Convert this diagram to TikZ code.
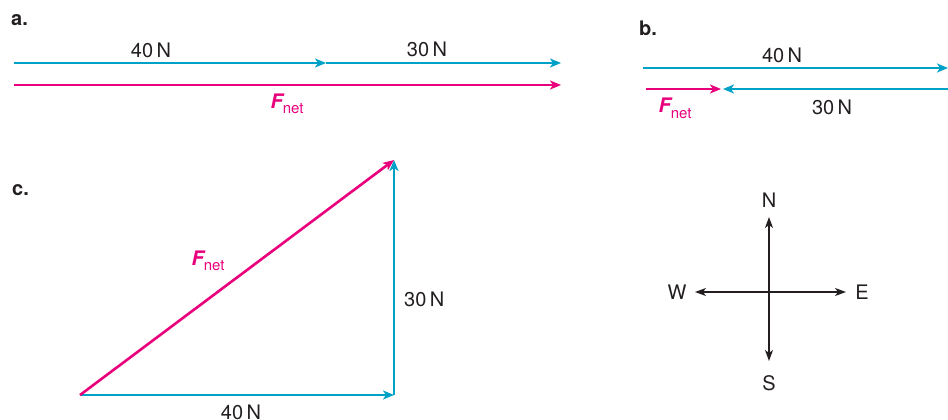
\documentclass[tikz,border=0pt]{standalone}
\usepackage{fontspec}
\setmainfont{TeX Gyre Heros}
\usetikzlibrary{arrows.meta}
\definecolor{vcyan}{RGB}{0,161,198}
\definecolor{vpink}{RGB}{232,0,124}
\definecolor{vtext}{RGB}{35,31,32}
\newcommand{\fnetlabel}{{\bfseries\itshape F}\raisebox{-0.28em}{\fontsize{15}{17}\selectfont net}}
\begin{document}
\begin{tikzpicture}[x=1pt,y=-1pt,
  every node/.style={font=\fontsize{20}{22}\selectfont, text=vtext, inner sep=0pt},
  partlabel/.style={font=\fontsize{20}{22}\selectfont\bfseries, anchor=base west},
  cyanvec/.style={draw=vcyan, line width=2.6pt, -{Stealth[length=11pt,width=9pt,inset=3pt]}},
  pinkvec/.style={draw=vpink, line width=2.6pt, -{Stealth[length=11pt,width=9pt,inset=3pt]}},
  compass/.style={draw=vtext, line width=1.3pt, -{Stealth[length=11pt,width=8pt,inset=3pt]}},
  pinktext/.style={text=vpink}]
\useasboundingbox (0,0) rectangle (948,420);

% ---- a ----
\node[partlabel] (la) at (11,26) {a.};
\coordinate (a0) at (14,63);
\coordinate (a1) at (326,63);
\coordinate (a2) at (561,63);
\coordinate (ap0) at (14,85);
\coordinate (ap1) at (561,85);
\draw[cyanvec] (a0) -- (a1);
\draw[cyanvec] (a1) -- (a2);
\draw[pinkvec] (ap0) -- (ap1);
\node[anchor=base] (a40) at (151,58) {40\,N};
\node[anchor=base] (a30) at (427,57) {30\,N};
\node[anchor=base, pinktext] (afn) at (287,108) {\fnetlabel};

% ---- b ----
\node[partlabel] (lb) at (639,36) {b.};
\coordinate (b0) at (643,68);
\coordinate (b1) at (948,68);
\coordinate (bp0) at (646,89);
\coordinate (bp1) at (721,89);
\coordinate (bc0) at (948,89);
\coordinate (bc1) at (723,89);
\draw[cyanvec] (b0) -- (b1);
\draw[pinkvec] (bp0) -- (bp1);
\draw[cyanvec] (bc0) -- (bc1);
\node[anchor=base] (b40) at (782,63) {40\,N};
\node[anchor=base] (b30) at (832,114) {30\,N};
\node[anchor=base, pinktext] (bfn) at (675,113) {\fnetlabel};

% ---- c ----
\node[partlabel] (lc) at (12,195) {c.};
\coordinate (c0) at (80,395);
\coordinate (c1) at (394,395);
\coordinate (c2) at (394,160);
\draw[cyanvec] (c0) -- (c1);
\draw[cyanvec] (c1) -- (c2);
\draw[pinkvec] (c0) -- (c2);
\node[anchor=base, pinktext] (cfn) at (208,265) {\fnetlabel};
\node[anchor=base west] (c30) at (404,306) {30\,N};
\node[anchor=base] (c40) at (241,419) {40\,N};

% ---- compass ----
\coordinate (o) at (769,292);
\node (nN) at (769,200) {N};
\node (nS) at (769,383) {S};
\node (nW) at (677,292) {W};
\node (nE) at (862,292) {E};
\coordinate (tN) at (769,217);
\coordinate (tS) at (769,361);
\coordinate (tW) at (695,292);
\coordinate (tE) at (846,292);
\draw[compass] (o) -- (tN);
\draw[compass] (o) -- (tS);
\draw[compass] (o) -- (tW);
\draw[compass] (o) -- (tE);
\end{tikzpicture}
\end{document}
